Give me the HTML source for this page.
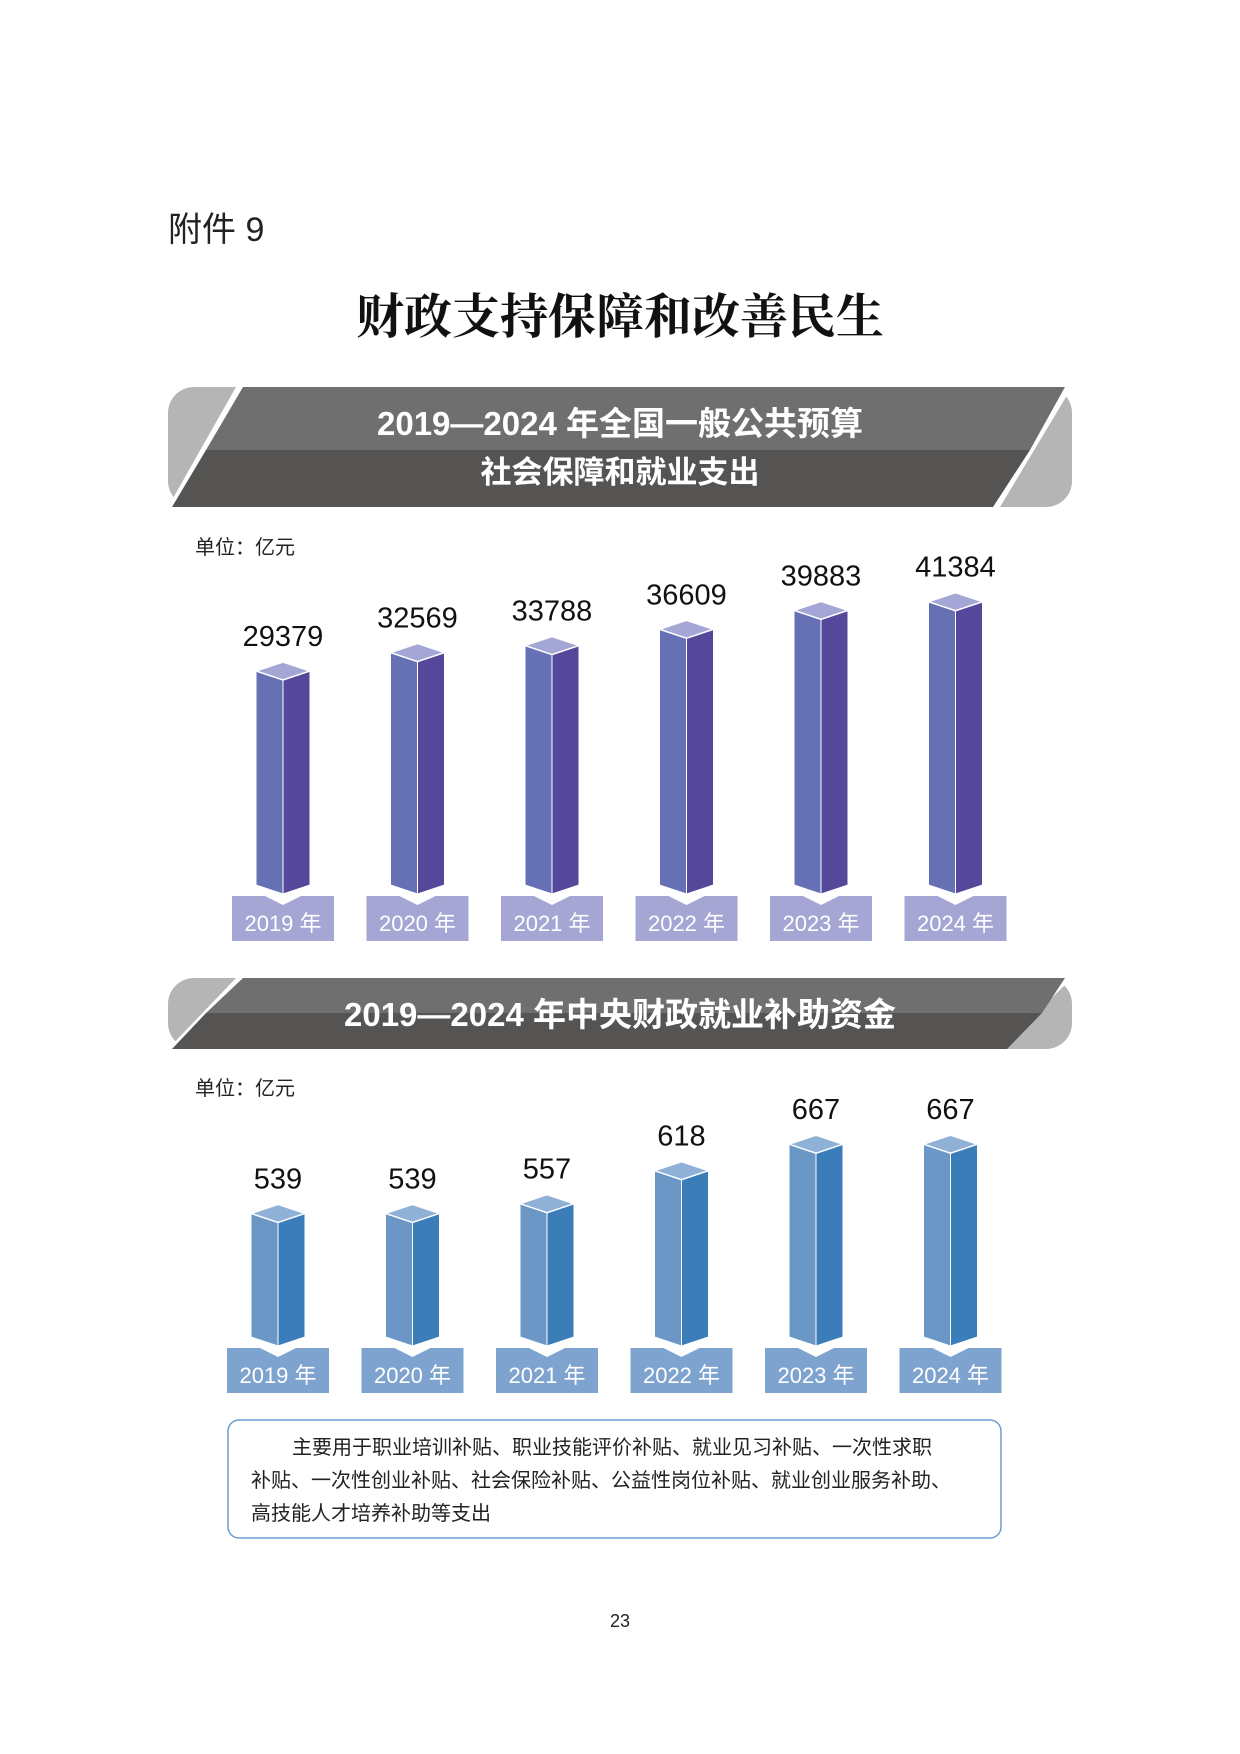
<!DOCTYPE html>
<html><head><meta charset="utf-8"><style>
body{margin:0;background:#fff;}
svg{display:block;font-family:"Liberation Sans","Noto Sans CJK SC",sans-serif;}
</style></head><body>
<svg id="page" width="1240" height="1754" viewBox="0 0 1240 1754">
<text x="168" y="241" font-size="34" fill="#222">附件 9</text>
<text x="620" y="333" font-size="48" font-weight="bold" text-anchor="middle" fill="#111" font-family="'Liberation Serif','Noto Serif CJK SC',serif">财政支持保障和改善民生</text>

<g>
<rect x="168" y="387" width="904" height="120" rx="26" fill="#b4b5b4"/>
<polygon points="236,387 1072,387 1000,507 168,507" fill="#fff"/>
<polygon points="243,387 1065,387 1030,450 206,450" fill="#6f6f6f"/>
<polygon points="206,450 1030,450 993,507 172,507" fill="#555453"/>
<text x="620" y="435" font-size="33" font-weight="bold" fill="#fff" text-anchor="middle">2019—2024 年全国一般公共预算</text>
<text x="620" y="483" font-size="31" font-weight="bold" fill="#fff" text-anchor="middle">社会保障和就业支出</text>
</g>
<text x="195" y="554" font-size="20" fill="#222">单位：亿元</text>

<g>
<rect x="168" y="978" width="904" height="71" rx="26" fill="#b4b5b4"/>
<polygon points="236,978 1072,978 1000,1049 168,1049" fill="#fff"/>
<polygon points="243,978 1065,978 1042,1013 206,1013" fill="#6f6f6f"/>
<polygon points="206,1013 1042,1013 1007,1049 172,1049" fill="#555453"/>
<text x="620" y="1026" font-size="33" font-weight="bold" fill="#fff" text-anchor="middle">2019—2024 年中央财政就业补助资金</text>
</g>
<text x="195" y="1095" font-size="20" fill="#222">单位：亿元</text>

<g id="c1"></g>
<g id="c2"></g>

<g>
<rect x="228" y="1420" width="773" height="118" rx="11" fill="#fff" stroke="#6a9fd0" stroke-width="1.5"/>
<text font-size="20" fill="#222">
<tspan x="292" y="1454">主要用于职业培训补贴、职业技能评价补贴、就业见习补贴、一次性求职</tspan>
<tspan x="251" y="1487">补贴、一次性创业补贴、社会保险补贴、公益性岗位补贴、就业创业服务补助、</tspan>
<tspan x="251" y="1520">高技能人才培养补助等支出</tspan>
</text>
</g>
<text x="620" y="1627" font-size="18" fill="#222" text-anchor="middle">23</text>
</svg>
<script>
const years = ["2019 年","2020 年","2021 年","2022 年","2023 年","2024 年"];
const spending = [29379,32569,33788,36609,39883,41384];
const subsidy = [539,539,557,618,667,667];
const NS="http://www.w3.org/2000/svg";
function mk(tag,attrs,parent){const e=document.createElementNS(NS,tag);for(const k in attrs)e.setAttribute(k,attrs[k]);parent.appendChild(e);return e;}
function draw(gid,vals,cfg){
  const g=document.getElementById(gid);
  const xScale=i=>cfg.x0+i*cfg.step;
  const hScale=v=>cfg.a+cfg.b*v;
  vals.forEach((v,i)=>{
    const cx=xScale(i), bot=cfg.bottom, top=bot-hScale(v), w=27, d=9;
    const bar=mk('g',{},g);
    
    
    mk('polygon',{points:`${cx-w},${top+d} ${cx},${top+2*d} ${cx},${bot} ${cx-w},${bot-d}`,fill:cfg.left,stroke:'#fff','stroke-width':1},bar);
    mk('polygon',{points:`${cx},${top+2*d} ${cx+w},${top+d} ${cx+w},${bot-d} ${cx},${bot}`,fill:cfg.right,stroke:'#fff','stroke-width':1},bar);
    mk('polygon',{points:`${cx-w},${top+d} ${cx},${top} ${cx+w},${top+d} ${cx},${top+2*d}`,fill:cfg.cap,stroke:'#fff','stroke-width':1.5},bar);
    const t=mk('text',{x:cx,y:top-16,'font-size':29,'text-anchor':'middle',fill:'#111'},g);
    
    
    t.textContent=v;
    const bx=cx-51, by=bot+2;
    const box=mk('polygon',{points:`${bx},${by} ${cx-18},${by} ${cx},${by+9} ${cx+18},${by} ${bx+102},${by} ${bx+102},${by+45} ${bx},${by+45}`,fill:cfg.box},g);
    
    
    const yt=mk('text',{x:cx,y:by+35,'font-size':22,'text-anchor':'middle',fill:'#fff'},g);
    
    
    yt.textContent=years[i];
  });
}
draw('c1',spending,{x0:283,step:134.5,bottom:894,a:62.5,b:0.00577,left:'#6670b5',right:'#554799',cap:'#a4a6d6',box:'#a5a6d4'});
draw('c2',subsidy,{x0:278,step:134.5,bottom:1346,a:-150,b:0.541,left:'#6b97c6',right:'#3a7db9',cap:'#8fb1d8',box:'#7fa3cf'});
</script>
</body></html>
